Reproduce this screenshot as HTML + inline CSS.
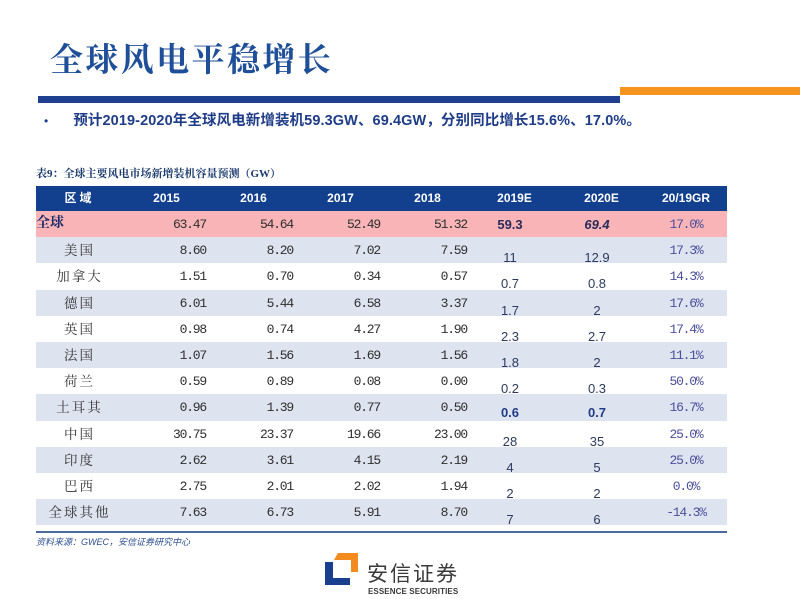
<!DOCTYPE html>
<html><head><meta charset="utf-8">
<style>
*{margin:0;padding:0;box-sizing:border-box}
html,body{width:800px;height:599px;background:#fff;overflow:hidden;position:relative}
.abs{position:absolute}
.title{left:50px;top:34px;font-family:"Liberation Serif","Noto Serif CJK SC",serif;font-size:33px;color:#1f4f98;letter-spacing:2.4px;white-space:nowrap;font-weight:bold}
.bullet{left:44px;top:109px;font-family:"Liberation Sans","Noto Sans CJK SC",sans-serif;font-size:14.5px;color:#1f3c88;font-weight:bold;white-space:nowrap;letter-spacing:0.1px}
.cap{left:36px;top:165px;font-family:"Liberation Serif","Noto Serif CJK SC",serif;font-size:11px;color:#1a3a6e;font-weight:bold;white-space:nowrap}
.hdr{left:36px;top:186px;width:691px;height:25px;background:#123f8e}
.hdr div{position:absolute;top:0;height:25px;line-height:25px;text-align:center;color:#fff;font-family:"Liberation Sans","Noto Sans CJK SC",sans-serif;font-weight:bold;font-size:12px}
.row{position:absolute;left:36px;width:691px;height:26.2px}
.row div{position:absolute;top:0;height:26.2px;line-height:27px;white-space:nowrap}
.rg{left:0;width:87px;text-align:center;font-family:"Liberation Serif","Noto Serif CJK SC",serif;font-size:13.5px;color:#333;letter-spacing:2px}
.n{font-family:"Liberation Mono",monospace;font-size:13px;letter-spacing:-1.2px;color:#2e2e2e;text-align:right;width:80px}
.e{font-family:"Liberation Sans",sans-serif;font-size:13px;color:#2b3a5e;text-align:center;width:60px;padding-top:7px}
.g{font-family:"Liberation Mono",monospace;font-size:13px;letter-spacing:-1.2px;color:#4a4f9c;text-align:center;width:70px;left:615px}
.c1{left:90px}.c2{left:177px}.c3{left:264px}.c4{left:351px}
.e1{left:444px}.e2{left:531px}
.lb{background:#dde3ef}.pk{background:#f8b4b6}
.src{left:36px;top:535px;font-family:"Liberation Sans","Noto Sans CJK SC",sans-serif;font-size:9px;font-style:italic;color:#2f4f8f;white-space:nowrap}
</style></head><body>
<div class="abs title">全球风电平稳增长</div>
<div class="abs" style="left:38px;top:96px;width:582px;height:7px;background:#1f3f8f"></div>
<div class="abs" style="left:620px;top:87px;width:180px;height:8px;background:#f7941d"></div>
<div class="abs bullet"><span style="font-weight:normal;font-size:12px;margin-right:25px">•</span>预计2019-2020年全球风电新增装机59.3GW、69.4GW，分别同比增长15.6%、17.0%。</div>
<div class="abs cap">表9：全球主要风电市场新增装机容量预测（GW）</div>

<div class="abs hdr">
<div style="left:0;width:87px;font-family:'Liberation Sans','Noto Sans CJK SC',sans-serif;letter-spacing:3px">区域</div>
<div style="left:87px;width:87px">2015</div>
<div style="left:174px;width:87px">2016</div>
<div style="left:261px;width:87px">2017</div>
<div style="left:348px;width:87px">2018</div>
<div style="left:435px;width:87px">2019E</div>
<div style="left:522px;width:87px">2020E</div>
<div style="left:609px;width:82px">20/19GR</div>
</div>

<div class="row pk" style="top:211px">
<div style="left:0;font-family:'Liberation Serif','Noto Serif CJK SC',serif;font-size:14px;color:#1c2a6a;font-weight:bold;line-height:26px">全球</div>
<div class="n c1">63.47</div><div class="n c2">54.64</div><div class="n c3">52.49</div><div class="n c4">51.32</div>
<div class="e e1" style="padding-top:0;font-weight:bold;color:#2a2a5a">59.3</div>
<div class="e e2" style="padding-top:0;font-weight:bold;font-style:italic;color:#2a2a5a">69.4</div>
<div class="g">17.0%</div>
</div>

<div class="row lb" style="top:237.2px"><div class="rg">美国</div><div class="n c1">8.60</div><div class="n c2">8.20</div><div class="n c3">7.02</div><div class="n c4">7.59</div><div class="e e1">11</div><div class="e e2">12.9</div><div class="g">17.3%</div></div>
<div class="row" style="top:263.4px"><div class="rg">加拿大</div><div class="n c1">1.51</div><div class="n c2">0.70</div><div class="n c3">0.34</div><div class="n c4">0.57</div><div class="e e1">0.7</div><div class="e e2">0.8</div><div class="g">14.3%</div></div>
<div class="row lb" style="top:289.6px"><div class="rg">德国</div><div class="n c1">6.01</div><div class="n c2">5.44</div><div class="n c3">6.58</div><div class="n c4">3.37</div><div class="e e1">1.7</div><div class="e e2">2</div><div class="g">17.6%</div></div>
<div class="row" style="top:315.8px"><div class="rg">英国</div><div class="n c1">0.98</div><div class="n c2">0.74</div><div class="n c3">4.27</div><div class="n c4">1.90</div><div class="e e1">2.3</div><div class="e e2">2.7</div><div class="g">17.4%</div></div>
<div class="row lb" style="top:342px"><div class="rg">法国</div><div class="n c1">1.07</div><div class="n c2">1.56</div><div class="n c3">1.69</div><div class="n c4">1.56</div><div class="e e1">1.8</div><div class="e e2">2</div><div class="g">11.1%</div></div>
<div class="row" style="top:368.2px"><div class="rg">荷兰</div><div class="n c1">0.59</div><div class="n c2">0.89</div><div class="n c3">0.08</div><div class="n c4">0.00</div><div class="e e1">0.2</div><div class="e e2">0.3</div><div class="g">50.0%</div></div>
<div class="row lb" style="top:394.4px"><div class="rg">土耳其</div><div class="n c1">0.96</div><div class="n c2">1.39</div><div class="n c3">0.77</div><div class="n c4">0.50</div><div class="e e1" style="font-weight:bold;color:#1f3c88;padding-top:5px">0.6</div><div class="e e2" style="font-weight:bold;color:#1f3c88;padding-top:5px">0.7</div><div class="g">16.7%</div></div>
<div class="row" style="top:420.6px"><div class="rg">中国</div><div class="n c1">30.75</div><div class="n c2">23.37</div><div class="n c3">19.66</div><div class="n c4">23.00</div><div class="e e1">28</div><div class="e e2">35</div><div class="g">25.0%</div></div>
<div class="row lb" style="top:446.8px"><div class="rg">印度</div><div class="n c1">2.62</div><div class="n c2">3.61</div><div class="n c3">4.15</div><div class="n c4">2.19</div><div class="e e1">4</div><div class="e e2">5</div><div class="g">25.0%</div></div>
<div class="row" style="top:473px"><div class="rg">巴西</div><div class="n c1">2.75</div><div class="n c2">2.01</div><div class="n c3">2.02</div><div class="n c4">1.94</div><div class="e e1">2</div><div class="e e2">2</div><div class="g">0.0%</div></div>
<div class="row lb" style="top:499.2px"><div class="rg">全球其他</div><div class="n c1">7.63</div><div class="n c2">6.73</div><div class="n c3">5.91</div><div class="n c4">8.70</div><div class="e e1">7</div><div class="e e2">6</div><div class="g">-14.3%</div></div>

<div class="abs" style="left:36px;top:531px;width:691px;height:2px;background:#4a6a9c"></div>
<div class="abs src">资料来源：GWEC，安信证券研究中心</div>

<svg class="abs" style="left:320px;top:550px" width="45" height="40" viewBox="0 0 45 40">
<polygon points="18,3 38,3 38,22 31,22 31,10 14,10" fill="#f28a1e"/>
<polygon points="5,12 13,12 13,28 30,28 30,35 5,35" fill="#1b3f8f"/>
</svg>
<div class="abs" style="left:367px;top:564px;font-family:'Liberation Sans','Noto Sans CJK SC',sans-serif;font-size:21px;color:#3a3a3a;letter-spacing:2px;white-space:nowrap;line-height:22px">安信证券</div>
<div class="abs" style="left:368px;top:588px;font-family:'Liberation Sans',sans-serif;font-size:8px;font-weight:bold;color:#3a3a3a;white-space:nowrap;line-height:8px;letter-spacing:0.1px">ESSENCE SECURITIES</div>
</body></html>
